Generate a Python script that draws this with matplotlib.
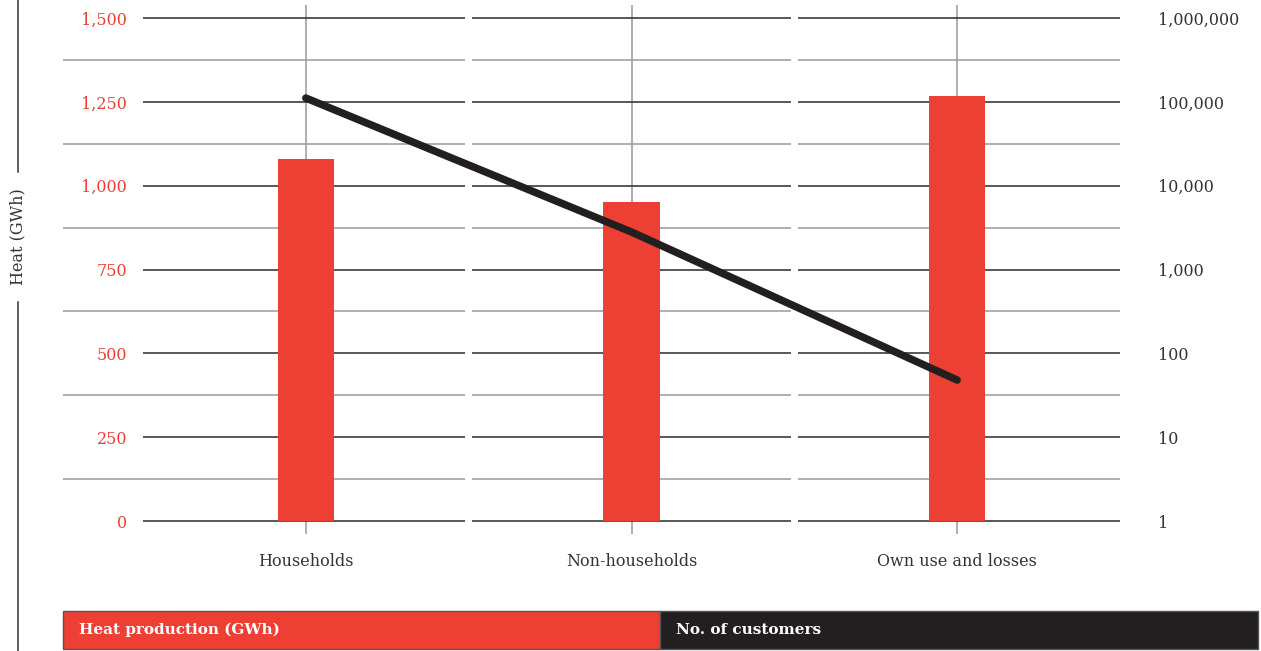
import matplotlib.pyplot as plt
import numpy as np
from matplotlib.lines import Line2D
from matplotlib.patches import Rectangle
from matplotlib.ticker import FixedLocator, NullLocator

plt.rcParams["font.family"] = ["DejaVu Serif"]

categories = ["Households", "Non-households", "Own use and losses"]
heat_gwh = [1080, 950, 1268]
customers = [111000, 2800, 48]
heat_ticks = [0, 250, 500, 750, 1000, 1250, 1500]
customer_ticks = [1, 10, 100, 1000, 10000, 100000, 1000000]

RED = "#EE3F34"
DARK = "#231F20"
GRID_MAJOR = "#2a2a2a"
GRID_MINOR = "#9a9a9a"

W, H = 1261, 651
fig = plt.figure(figsize=(W / 100, H / 100), dpi=100)

# axes box in pixels (left, top, right, bottom)
left, top, right, bottom = 143, 5, 1120, 521
ax = fig.add_axes([left / W, (H - bottom) / H, (right - left) / W, (bottom - top) / H])
scale = (bottom - top) / (bottom - 18)  # 1500 sits at y=18px
ax.set_ylim(0, 1500 * scale)
ax.set_xlim(-0.5, 2.5)
for s in ax.spines.values():
    s.set_visible(False)

x = np.arange(len(categories))
px = 325.5  # pixels per category
gap = 3.5 / px

# segmented horizontal gridlines, one segment per category band
for i in range(len(categories)):
    x0 = i - 0.5 + (gap if i > 0 else 0)
    x1 = i + 0.5 - (gap if i < len(categories) - 1 else 0)
    for lvl in np.arange(0, 1501, 125):
        major = lvl % 250 == 0
        start = x0
        if i == 0 and not major:
            start = -0.5 - 80 / px
        ax.plot([start, x1], [lvl, lvl], color=GRID_MAJOR if major else GRID_MINOR,
                lw=1.1, zorder=1, clip_on=False, solid_capstyle="butt")

ax.bar(x, heat_gwh, width=56 / px, color=RED, zorder=3)

ax.set_xticks(x, categories)
ax.xaxis.grid(True, color="#999999", lw=1.1, zorder=0)
ax.set_axisbelow(True)
ax.tick_params(axis="x", length=9, width=1.1, color="#999999", pad=14,
               labelsize=11.5, labelcolor="#333333")
ax.set_yticks(heat_ticks, [f"{v:,}" for v in heat_ticks])
ax.tick_params(axis="y", length=0, pad=11.5, labelsize=11.5, labelcolor=RED)

ax2 = ax.twinx()
ax2.set_yscale("log")
ax2.set_ylim(1, 10 ** (6 * scale))
for s in ax2.spines.values():
    s.set_visible(False)
ax2.yaxis.set_major_locator(FixedLocator(customer_ticks))
ax2.yaxis.set_minor_locator(NullLocator())
ax2.set_yticklabels([f"{v:,}" for v in customer_ticks])
ax2.tick_params(axis="y", length=0, pad=27, labelsize=11.5, labelcolor="#333333")
ax2.plot(x, customers, color=DARK, lw=5.4, solid_capstyle="round", zorder=5)

# rotated axis title with the vertical rule broken around it
fig.text(18 / W, 1 - 237 / H, "Heat (GWh)", rotation=90, ha="center", va="center",
         fontsize=11.5, color="#333333")
fig.add_artist(Line2D([18 / W, 18 / W], [1, 1 - 172 / H], color="#333333", lw=1.1))
fig.add_artist(Line2D([18 / W, 18 / W], [1 - 302 / H, 0], color="#333333", lw=1.1))

# legend bar
ly0, ly1 = 1 - 649 / H, 1 - 611 / H
fig.add_artist(Rectangle((63 / W, ly0), (660 - 63) / W, ly1 - ly0, transform=fig.transFigure,
                         facecolor=RED, edgecolor="#555555", lw=1))
fig.add_artist(Rectangle((660 / W, ly0), (1258 - 660) / W, ly1 - ly0, transform=fig.transFigure,
                         facecolor=DARK, edgecolor="#555555", lw=1))
fig.text(79 / W, 1 - 630 / H, "Heat production (GWh)", color="white", fontweight="bold",
         fontsize=11, va="center")
fig.text(676 / W, 1 - 630 / H, "No. of customers", color="white", fontweight="bold",
         fontsize=11, va="center")

fig.savefig("out.png", dpi=100)
